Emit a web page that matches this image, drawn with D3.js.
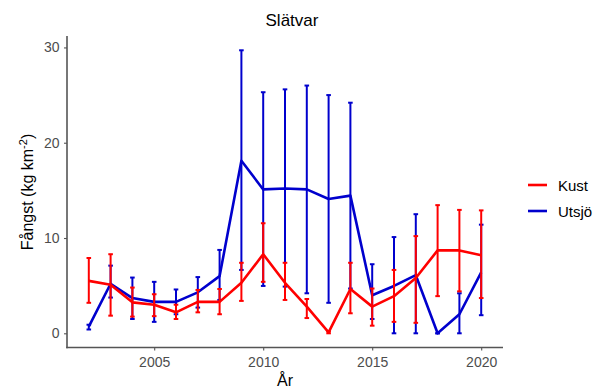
<!DOCTYPE html>
<html>
<head>
<meta charset="utf-8">
<script src="https://cdn.jsdelivr.net/npm/d3@7"></script>
<style>
  body { margin: 0; background: #fff; }
  text { font-family: "Liberation Sans", Arial, sans-serif; }
</style>
</head>
<body>
<svg id="chart" width="606" height="392"></svg>
<script>
// data
const years = [2002,2003,2004,2005,2006,2007,2008,2009,2010,2011,2012,2013,2014,2015,2016,2017,2018,2019,2020];

const kustMean = [5.5,5.1,3.25,3.0,2.2,3.3,3.3,5.3,8.3,5.3,2.8,0.1,4.65,2.8,3.9,5.8,8.7,8.7,8.2];
const kustLow  = [3.2,1.85,1.75,1.8,1.5,2.2,2.0,3.4,5.4,3.5,1.6,0.0,2.1,0.8,1.2,1.1,3.9,4.4,3.7];
const kustHigh = [7.9,8.3,4.8,4.1,3.0,4.55,4.65,7.4,11.55,7.4,3.6,0.2,7.4,4.7,6.65,10.2,13.45,12.95,12.9];

const utsMean = [0.7,5.2,3.7,3.3,3.3,4.3,6.0,18.1,15.1,15.2,15.1,14.1,14.45,4.0,4.97,6.1,0.0,2.0,6.4];
const utsLow  = [0.4,3.75,1.5,1.2,2.0,2.7,3.5,6.65,4.97,4.9,4.2,3.2,4.7,1.5,0.0,0.0,0.0,0.0,1.9];
const utsHigh = [0.9,7.1,5.85,5.4,4.6,5.9,8.75,29.7,25.3,25.6,26.0,25.0,24.2,7.25,10.1,12.5,0.0,4.2,11.4];

const xTicks = [2005,2010,2015,2020];
const yTicks = [0,10,20,30];

const series = [
  {name:"Utsjö", col:"#0000cd", mean:utsMean, low:utsLow, high:utsHigh},
  {name:"Kust",  col:"#ff0000", mean:kustMean, low:kustLow, high:kustHigh}
];
const legendOrder = ["Kust","Utsjö"];

let svg = d3.select("#chart");
let pLeft = 67, pRight = 503, pTop = 36, pBottom = 347.5;

let x = d3.scaleLinear().domain([2001, 2021]).range([pLeft, pRight]);
let y = d3.scaleLinear().domain([-1.49, 31.2]).range([pBottom, pTop]);

// title
svg.append("text")
  .attr("x", 292).attr("y", 26)
  .attr("text-anchor", "middle")
  .attr("font-size", 17)
  .attr("fill", "#000")
  .text("Slätvar");

// axes
let xAxis = svg.append("g")
  .attr("transform", `translate(0,${pBottom})`)
  .call(d3.axisBottom(x).tickValues(xTicks).tickFormat(d3.format("d")).tickSize(3).tickSizeOuter(0));
let yAxis = svg.append("g")
  .attr("transform", `translate(${pLeft},0)`)
  .call(d3.axisLeft(y).tickValues(yTicks).tickSize(3).tickSizeOuter(0));

[xAxis, yAxis].forEach(a => {
  a.select(".domain").attr("stroke", "#555").attr("stroke-width", 1.6);
  a.selectAll(".tick line").attr("stroke", "#555").attr("stroke-width", 1.1);
  a.selectAll(".tick text").attr("fill", "#4d4d4d").attr("font-size", 14);
});
xAxis.selectAll(".tick text").attr("dy", "0.95em");
yAxis.selectAll(".tick text").attr("dx", "-0.1em");
// make the axis lines meet in the corner
xAxis.select(".domain").attr("d", `M${pLeft - 0.8},0H${pRight}`);
yAxis.select(".domain").attr("d", `M0,${pTop}V${pBottom + 0.8}`);

// axis labels
svg.append("text")
  .attr("x", 285).attr("y", 386)
  .attr("text-anchor", "middle")
  .attr("font-size", 16)
  .text("År");

let yl = svg.append("text")
  .attr("transform", "translate(33,192) rotate(-90)")
  .attr("text-anchor", "middle")
  .attr("font-size", 16);
yl.append("tspan").text("Fångst (kg km");
yl.append("tspan").attr("font-size", 11).attr("dy", -6).text("-2");
yl.append("tspan").attr("dy", 6).text(")");

// marks
let line = d3.line()
  .x((d, i) => x(years[i]))
  .y(d => y(d));
let capW = 2.3;

series.forEach(s => {
  let g = svg.append("g");
  let eb = g.selectAll("g.eb")
    .data(years.map((yr, i) => ({yr:yr, lo:s.low[i], hi:s.high[i]})))
    .join("g");
  eb.append("line")
    .attr("x1", d => x(d.yr)).attr("x2", d => x(d.yr))
    .attr("y1", d => y(d.lo)).attr("y2", d => y(d.hi))
    .attr("stroke", s.col).attr("stroke-width", 2);
  eb.append("line")
    .attr("x1", d => x(d.yr) - capW).attr("x2", d => x(d.yr) + capW)
    .attr("y1", d => y(d.lo)).attr("y2", d => y(d.lo))
    .attr("stroke", s.col).attr("stroke-width", 2);
  eb.append("line")
    .attr("x1", d => x(d.yr) - capW).attr("x2", d => x(d.yr) + capW)
    .attr("y1", d => y(d.hi)).attr("y2", d => y(d.hi))
    .attr("stroke", s.col).attr("stroke-width", 2);
  g.append("path")
    .attr("d", line(s.mean))
    .attr("fill", "none")
    .attr("stroke", s.col)
    .attr("stroke-width", 2.6)
    .attr("stroke-linejoin", "round");
});

// legend
let lg = svg.append("g").attr("transform", "translate(528,185)");
legendOrder.forEach((name, i) => {
  let s = series.find(d => d.name === name);
  lg.append("line")
    .attr("x1", 0).attr("x2", 19)
    .attr("y1", i * 26).attr("y2", i * 26)
    .attr("stroke", s.col).attr("stroke-width", 2.6);
  lg.append("text")
    .attr("x", 30).attr("y", i * 26 + 5.5)
    .attr("font-size", 15)
    .text(name);
});
</script>
</body>
</html>
